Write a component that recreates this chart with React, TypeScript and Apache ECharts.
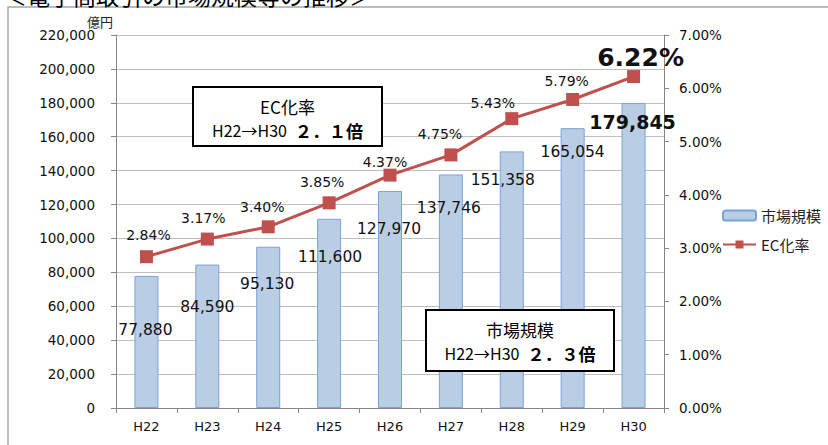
import React, { useEffect, useRef } from "react";
import * as echarts from "echarts";

const categories = ["H22", "H23", "H24", "H25", "H26", "H27", "H28", "H29", "H30"];
const marketSize = [77880, 84590, 95130, 111600, 127970, 137746, 151358, 165054, 179845];
const ecRate = [2.84, 3.17, 3.4, 3.85, 4.37, 4.75, 5.43, 5.79, 6.22];
const leftMin = 0;
const leftMax = 220000;
const leftInterval = 20000;
const rightMin = 0;
const rightMax = 7;
const rightInterval = 1;
const seriesNames = ["市場規模", "EC化率"];
const titleText = "＜電子商取引の市場規模等の推移＞";
const unitText = "億円";
const box1Title = "EC化率";
const box1Text = ["H22→H30", "２．１倍"];
const box2Title = "市場規模";
const box2Text = ["H22→H30", "２．３倍"];

// label placement (styling only)
const barLabelOffsets = [
  [-1, 54], [0, 42], [-1, 37], [1, 38], [-1, 38], [-2, 34], [-9, 29], [0, 24], [-1, 19],
];
const lineLabelOffsets = [
  [2, -22], [-4, -21], [-6, -20], [-7, -21], [-5, -13], [-11, -21], [-19, -16], [-6, -18], [7, -19],
];

const FONT = "DejaVu Sans";
const CJK = "Noto Sans CJK JP";

function makeBox(x: number, y: number, w: number, h: number, title: string, parts: string[]) {
  const cx = x + w / 2;
  return {
    type: "group",
    z: 100,
    children: [
      {
        type: "rect",
        z: 100,
        shape: { x, y, width: w, height: h },
        style: { fill: "#fff", stroke: "#000", lineWidth: 2 },
      },
      {
        type: "text",
        z: 101,
        x: cx,
        y: y + 19,
        style: {
          text: title,
          fontFamily: CJK,
          fontSize: 17,
          fill: "#000",
          align: "center",
          verticalAlign: "middle",
        },
      },
      {
        type: "text",
        z: 101,
        x: cx,
        y: y + 43,
        style: {
          text: `{a|${parts[0]}}{b|${parts[1]}}`,
          align: "center",
          verticalAlign: "middle",
          rich: {
            a: { fontFamily: CJK, fontSize: 16, fill: "#000", padding: [0, 8, 0, 0] },
            b: { fontFamily: CJK, fontSize: 17, fontWeight: "bold", fill: "#000" },
          },
        },
      },
    ],
  };
}

export default function App() {
  const ref = useRef<HTMLDivElement>(null);
  useEffect(() => {
    if (!ref.current) return;
    const chart = echarts.init(ref.current, undefined, { renderer: "svg" });
    const last = marketSize.length - 1;
    const barData = marketSize.map((v, i) => ({
      value: v,
      label: {
        offset: barLabelOffsets[i],
        fontSize: i === last ? 19 : 15.5,
        fontWeight: i === last ? "bold" : "normal",
      },
    }));
    const lineData = ecRate.map((v, i) => ({
      value: v,
      label: {
        offset: lineLabelOffsets[i],
        fontSize: i === last ? 25 : 14,
        fontWeight: i === last ? "bold" : "normal",
      },
    }));
    chart.setOption({
      animation: false,
      backgroundColor: "#ffffff",
      grid: { left: 116, right: 164, top: 35, bottom: 37, containLabel: false },
      legend: {
        data: seriesNames,
        orient: "vertical",
        left: 717,
        top: 203,
        itemWidth: 33,
        itemHeight: 10,
        itemGap: 14,
        textStyle: { fontFamily: CJK, fontSize: 15, color: "#222" },
      },
      xAxis: {
        type: "category",
        data: categories,
        boundaryGap: true,
        axisLine: { lineStyle: { color: "#868686", width: 1 } },
        axisTick: { show: true, length: 5, lineStyle: { color: "#868686" } },
        axisLabel: { fontFamily: FONT, fontSize: 13, color: "#111", margin: 12 },
      },
      yAxis: [
        {
          type: "value",
          min: leftMin,
          max: leftMax,
          interval: leftInterval,
          name: unitText,
          nameLocation: "end",
          nameGap: 3,
          nameTextStyle: {
            fontFamily: CJK,
            fontSize: 13,
            color: "#222",
            align: "right",
            padding: [0, 3, 0, 0],
          },
          axisLine: { show: true, lineStyle: { color: "#868686" } },
          axisTick: { show: true, length: 5, lineStyle: { color: "#868686" } },
          splitLine: { show: true, lineStyle: { color: "#BEBEBE", width: 1 } },
          axisLabel: {
            fontFamily: FONT,
            fontSize: 13.5,
            color: "#111",
            margin: 21,
            formatter: (v: number) => v.toLocaleString("en-US"),
          },
        },
        {
          type: "value",
          min: rightMin,
          max: rightMax,
          interval: rightInterval,
          position: "right",
          axisLine: { show: true, lineStyle: { color: "#868686" } },
          axisTick: { show: true, length: 5, lineStyle: { color: "#868686" } },
          splitLine: { show: false },
          axisLabel: {
            fontFamily: FONT,
            fontSize: 13.5,
            color: "#111",
            margin: 15,
            formatter: (v: number) => v.toFixed(2) + "%",
          },
        },
      ],
      series: [
        {
          name: seriesNames[0],
          type: "bar",
          yAxisIndex: 0,
          data: barData,
          barWidth: 24,
          itemStyle: { color: "#B9CDE5", borderColor: "#7BA2D8", borderWidth: 1 },
          label: {
            show: true,
            position: ["50%", 0],
            align: "center",
            verticalAlign: "middle",
            fontFamily: FONT,
            color: "#111",
            formatter: (p: any) => Number(p.value).toLocaleString("en-US"),
          },
          z: 2,
        },
        {
          name: seriesNames[1],
          type: "line",
          yAxisIndex: 1,
          data: lineData,
          symbol: "rect",
          symbolSize: 13,
          lineStyle: { color: "#C0504D", width: 3 },
          itemStyle: { color: "#C0504D" },
          label: {
            show: true,
            position: "inside",
            align: "center",
            verticalAlign: "middle",
            fontFamily: FONT,
            color: "#111",
            formatter: (p: any) => Number(p.value).toFixed(2) + "%",
          },
          z: 3,
        },
      ],
      graphic: [
        {
          type: "rect",
          shape: { x: 8, y: 7, width: 900, height: 500 },
          style: { fill: "none", stroke: "#A6A6A6", lineWidth: 1.5 },
          silent: true,
          z: -1,
        },
        {
          type: "text",
          x: 4,
          y: 6,
          style: {
            text: titleText,
            fontFamily: CJK,
            fontSize: 23,
            fill: "#000",
            verticalAlign: "bottom",
          },
        },
        makeBox(193, 87, 189, 59, box1Title, box1Text),
        makeBox(426, 310, 188, 61, box2Title, box2Text),
      ],
    });
    return () => chart.dispose();
  }, []);
  return (
    <div
      ref={ref}
      style={{ position: "fixed", left: 0, top: 0, width: 828, height: 445 }}
    />
  );
}
